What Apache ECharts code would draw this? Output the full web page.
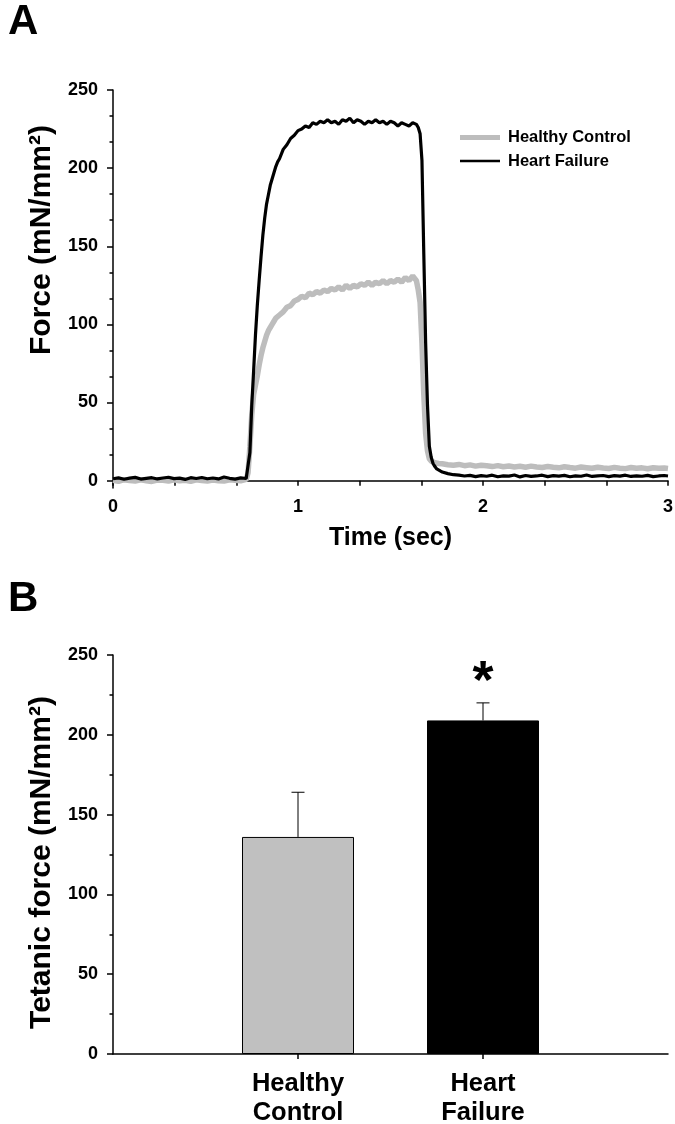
<!DOCTYPE html>
<html><head><meta charset="utf-8">
<script src="https://cdn.jsdelivr.net/npm/echarts@6/dist/echarts.min.js"></script>
<style>html,body{margin:0;padding:0;background:#fff}#c{width:675px;height:1124px}</style>
</head><body><div id="c"></div>
<script>
// ---- Panel A: force traces ----
const timeSec = [
  0,0.03,0.06,0.09,0.12,0.15,0.18,0.21,0.24,0.27,0.3,0.33,0.36,0.39,0.42,0.45,0.48,0.51,0.54,0.57,0.6,0.63,0.66,0.69,0.72,
  0.73,0.74,0.75,0.76,0.77,0.78,0.79,0.8,0.81,0.82,0.83,0.84,0.85,0.86,0.87,0.88,0.89,0.9,
  0.92,0.94,0.96,0.98,1.0,1.02,1.04,1.06,1.08,1.1,1.12,1.14,1.16,1.18,1.2,1.22,1.24,1.26,1.28,1.3,1.32,1.34,1.36,1.38,1.4,1.42,1.44,1.46,1.48,1.5,1.52,1.54,1.56,1.58,1.6,1.62,1.64,
  1.65,1.66,1.67,1.68,1.69,1.7,1.71,1.72,1.73,1.74,1.75,1.76,
  1.78,1.81,1.84,1.87,1.9,1.93,1.96,1.99,2.02,2.05,2.08,2.11,2.14,2.17,2.2,2.23,2.26,2.29,2.32,2.35,2.38,2.41,2.44,2.47,2.5,2.53,2.56,2.59,2.62,2.65,2.68,2.71,2.74,2.77,2.8,2.83,2.86,2.89,2.92,2.95,2.98,3.0
];
const controlTrace = [
  0.3,-0.4,0.6,0.1,-0.2,0.5,0.0,-0.5,0.4,0.2,-0.3,0.6,-0.1,0.3,-0.4,0.5,0.1,-0.2,0.4,0.0,-0.3,0.6,0.2,-0.1,0.8,
  5,22,42,55,61,67,74,80,85,89,93,96,98,100,102,104,105,106,
  108,111,112,115,116,118,117,120,119,121,120,122,121,123,122,124,122,125,123,125,124,126,125,127,125,127,126,128,126,128,127,129,127,130,128,131,128,
  122,114,88,55,30,19,14,12.5,12,11.5,11,11,
  10.8,10.2,9.9,10.4,9.6,10.1,9.3,9.8,9.5,9.0,9.6,8.9,9.4,8.7,9.2,8.6,9.3,8.8,8.4,9.1,8.6,8.2,8.9,8.4,8.0,8.7,8.3,7.9,8.6,8.1,7.8,8.5,8.0,7.7,8.4,7.9,8.2,7.6,8.3,7.9,8.1,7.8
];
const failureTrace = [
  1.2,1.8,0.9,1.6,2.1,1.0,1.5,1.9,1.1,1.7,2.2,1.3,1.6,0.8,1.9,1.4,2.0,1.2,1.7,1.1,2.3,1.5,1.0,1.8,1.4,
  1.6,18,48,70,93,112,128,143,157,168,177,183,189,193,197,201,204,206,
  212,215,219,221,224,225,227,226,229,228,230,229,231,229,230,228,231,230,232,229,231,230,228,230,229,231,229,230,228,230,229,227,229,228,227,229,228,
  226,222,205,145,88,48,22,15,11,9,7.5,6.5,
  5.5,4.5,3.8,3.5,3.0,3.4,2.6,3.2,2.8,3.5,2.5,3.1,2.9,3.6,2.4,3.3,2.7,3.0,3.5,2.6,3.2,2.9,3.4,2.5,3.1,2.8,3.6,2.7,3.0,3.3,2.6,3.2,2.9,3.5,2.7,3.1,2.8,3.4,2.6,3.0,3.3,3.0
];
const traceNames = ['Healthy Control', 'Heart Failure'];
const yTicksA = [0, 50, 100, 150, 200, 250];
const yMinorTicksA = [16.67, 33.33, 66.67, 83.33, 116.67, 133.33, 166.67, 183.33, 216.67, 233.33];

// ---- Panel B: tetanic force bars ----
const categories = ['Healthy\nControl', 'Heart\nFailure'];
const barPositions = [1, 2];
const barMeans = [136, 209];
const barUpper = [164, 220];
const sigMarks = ['', '*'];

const FF = "'Liberation Sans', Arial, Helvetica, sans-serif";
const barColors = ['#c0c0c0', '#000000'];
const axisLineStyle = { color: '#000', width: 1.5 };

const chart = echarts.init(document.getElementById('c'), null, { renderer: 'canvas' });

const option = {
  animation: false,
  backgroundColor: '#fff',
  textStyle: { fontFamily: FF, color: '#000' },
  title: [
    { text: 'A', left: 3, top: -4, textStyle: { fontSize: 42, fontWeight: 'bold', fontFamily: FF, color: '#000' } },
    { text: 'B', left: 3, top: 573, textStyle: { fontSize: 42, fontWeight: 'bold', fontFamily: FF, color: '#000' } }
  ],
  legend: [
    { data: [traceNames[0]], left: 460, top: 129, padding: 0, icon: 'rect', itemWidth: 40, itemHeight: 5, selectedMode: false,
      textStyle: { fontSize: 16.5, fontWeight: 'bold', fontFamily: FF, color: '#000', padding: [0, 0, 0, 3] } },
    { data: [traceNames[1]], left: 460, top: 152.5, padding: 0, icon: 'rect', itemWidth: 40, itemHeight: 2.5, selectedMode: false,
      textStyle: { fontSize: 16.5, fontWeight: 'bold', fontFamily: FF, color: '#000', padding: [0, 0, 0, 3] } }
  ],
  grid: [
    { left: 113, top: 90, width: 555, height: 398, outerBoundsMode: 'none', containLabel: false },
    { left: 113, top: 655, width: 555, height: 399, outerBoundsMode: 'none', containLabel: false }
  ],
  xAxis: [
    { gridIndex: 0, type: 'value', min: 0, max: 3, interval: 1,
      axisLine: { lineStyle: axisLineStyle },
      axisTick: { length: 5, lineStyle: axisLineStyle },
      minorTick: { show: true, splitNumber: 3, length: 5, lineStyle: axisLineStyle },
      splitLine: { show: false }, minorSplitLine: { show: false },
      axisLabel: { fontSize: 18, fontWeight: 'bold', color: '#000', fontFamily: FF, margin: 10 },
      name: 'Time (sec)', nameLocation: 'middle', nameGap: 38,
      nameTextStyle: { fontSize: 25, fontWeight: 'bold', color: '#000', fontFamily: FF } },
    { gridIndex: 1, type: 'value', min: 0, max: 3,
      axisLine: { lineStyle: axisLineStyle },
      axisTick: { length: 5, lineStyle: axisLineStyle, customValues: barPositions },
      splitLine: { show: false },
      axisLabel: { customValues: barPositions, formatter: v => categories[barPositions.indexOf(v)] || '',
        fontSize: 25.5, lineHeight: 29, fontWeight: 'bold', color: '#000', fontFamily: FF, margin: 15 } }
  ],
  yAxis: [
    { gridIndex: 0, type: 'value', min: -4.7, max: 250, position: 'left',
      axisLine: { show: true, lineStyle: axisLineStyle },
      axisTick: { show: true, length: 6, lineStyle: axisLineStyle, customValues: yTicksA },
      axisLabel: { customValues: yTicksA, fontSize: 18, fontWeight: 'bold', color: '#000', fontFamily: FF, margin: 15 },
      splitLine: { show: false },
      name: 'Force (mN/mm²)', nameLocation: 'middle', nameGap: 52, nameRotate: 90,
      nameTextStyle: { fontSize: 30, fontWeight: 'bold', color: '#000', fontFamily: FF, padding: [0, 0, 0, 98] } },
    { gridIndex: 0, type: 'value', min: -4.7, max: 250, position: 'left', offset: 0,
      axisLine: { show: false },
      axisTick: { show: true, length: 3.5, lineStyle: axisLineStyle, customValues: yMinorTicksA },
      axisLabel: { show: false }, splitLine: { show: false } },
    { gridIndex: 1, type: 'value', min: 0, max: 250, interval: 50, position: 'left',
      axisLine: { show: true, lineStyle: axisLineStyle },
      axisTick: { show: true, length: 6, lineStyle: axisLineStyle },
      minorTick: { show: true, splitNumber: 2, length: 3.5, lineStyle: axisLineStyle },
      axisLabel: { fontSize: 18, fontWeight: 'bold', color: '#000', fontFamily: FF, margin: 15 },
      splitLine: { show: false }, minorSplitLine: { show: false },
      name: 'Tetanic force (mN/mm²)', nameLocation: 'middle', nameGap: 52, nameRotate: 90,
      nameTextStyle: { fontSize: 30, fontWeight: 'bold', color: '#000', fontFamily: FF, padding: [0, 16, 0, 0] } }
  ],
  series: [
    { name: traceNames[0], type: 'line', xAxisIndex: 0, yAxisIndex: 0, showSymbol: false, symbol: 'none',
      data: timeSec.map((t, i) => [t, controlTrace[i]]),
      lineStyle: { color: '#bdbdbd', width: 5.5 }, itemStyle: { color: '#bdbdbd' } },
    { name: traceNames[1], type: 'line', xAxisIndex: 0, yAxisIndex: 0, showSymbol: false, symbol: 'none',
      data: timeSec.map((t, i) => [t, failureTrace[i]]),
      lineStyle: { color: '#000', width: 3.2 }, itemStyle: { color: '#000' } },
    { type: 'bar', xAxisIndex: 1, yAxisIndex: 2, barWidth: 112,
      data: barPositions.map((p, i) => ({ value: [p, barMeans[i]], itemStyle: { color: barColors[i], borderColor: '#000', borderWidth: 1 } })) },
    { type: 'custom', xAxisIndex: 1, yAxisIndex: 2, z: 5,
      data: barPositions.map((p, i) => [p, barMeans[i], barUpper[i]]),
      renderItem: function (params, api) {
        const x = api.value(0), m = api.value(1), u = api.value(2);
        const p0 = api.coord([x, m]);
        const p1 = api.coord([x, u]);
        const children = [
          { type: 'line', shape: { x1: p0[0], y1: p0[1], x2: p1[0], y2: p1[1] }, style: { stroke: '#000', lineWidth: 1 } },
          { type: 'line', shape: { x1: p1[0] - 6.5, y1: p1[1], x2: p1[0] + 6.5, y2: p1[1] }, style: { stroke: '#000', lineWidth: 1 } }
        ];
        const mark = sigMarks[params.dataIndex];
        if (mark) {
          children.push({ type: 'text', style: { text: mark, x: p1[0], y: p1[1] - 20, align: 'center', verticalAlign: 'middle',
            fontSize: 54, fontWeight: 'bold', fontFamily: FF, fill: '#000' } });
        }
        return { type: 'group', children: children };
      } }
  ]
};
chart.setOption(option);
</script>
</body></html>
